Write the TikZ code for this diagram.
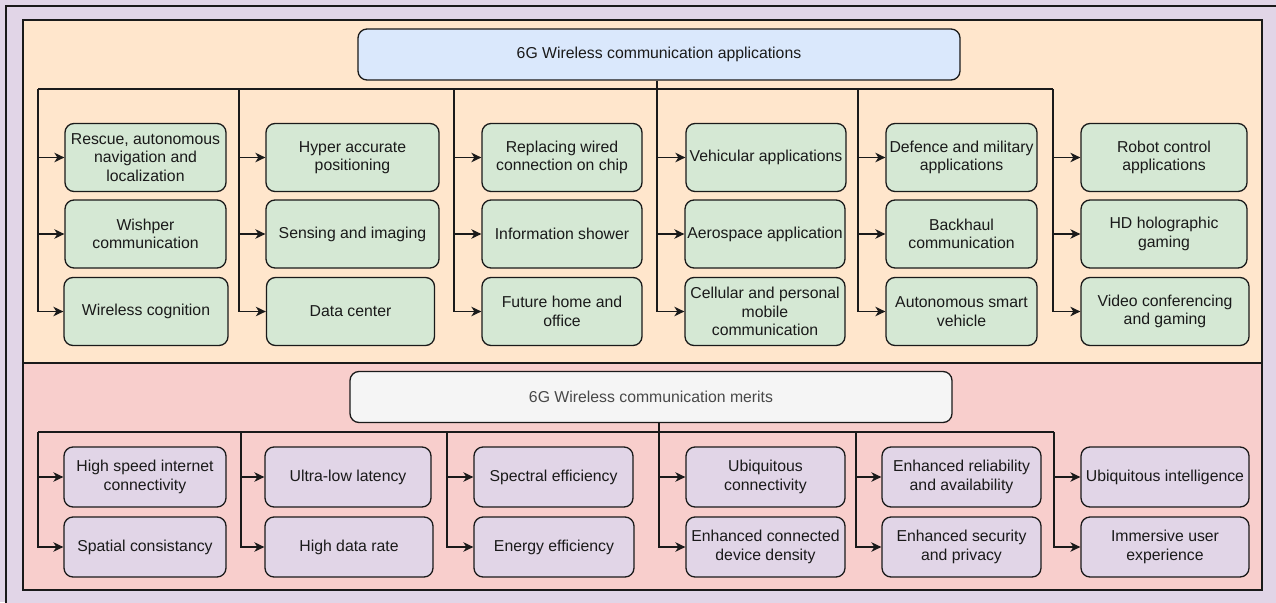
\documentclass[tikz,border=0pt]{standalone}
\usepackage{fontspec}
\setmainfont{Liberation Sans}
\usetikzlibrary{arrows.meta}

\definecolor{outerlilac}{HTML}{E1D5E7}
\definecolor{apppanel}{HTML}{FFE6CC}
\definecolor{meritpanel}{HTML}{F8CECC}
\definecolor{appgreen}{HTML}{D5E8D4}
\definecolor{headblue}{HTML}{DAE8FC}
\definecolor{headgrey}{HTML}{F5F5F5}
\definecolor{meritlilac}{HTML}{E1D5E7}
\definecolor{inkdark}{HTML}{1A1A1A}

\tikzset{
  cell/.style={draw=inkdark, line width=1.3pt, rounded corners=9pt, align=center,
    inner sep=2pt, font=\fontsize{15.8}{18.4}\selectfont, text=inkdark},
  appbox/.style={cell, fill=appgreen, minimum height=68pt},
  meritbox/.style={cell, fill=meritlilac, minimum height=60pt},
  headbox/.style={cell, minimum width=602pt, minimum height=51pt},
  panel/.style={draw=inkdark, line width=1.3pt},
  bus/.style={draw=inkdark, line width=1.4pt},
  feed/.style={bus, -{Stealth[length=10pt,width=9.5pt,inset=3pt]}}
}

\begin{document}
\begin{tikzpicture}[x=1pt, y=-1pt]
    \useasboundingbox (0,0) rectangle (1276,602);
    % Panels
    \fill[outerlilac] (0,0) rectangle (1276,602);
    \draw[panel, fill=outerlilac] (6,6) rectangle (1284,610);
    \draw[panel, fill=apppanel] (23,20) rectangle (1262,363);
    \draw[panel, fill=meritpanel] (23,363) rectangle (1262,590);

    % Applications
    \node[headbox, fill=headblue] (apphead) at (659,54.5) {6G Wireless communication applications};

    \node[appbox, minimum width=161pt] (a11) at (145.5,157.5) {Rescue, autonomous\\navigation and\\localization};
    \node[appbox, minimum width=161pt] (a12) at (145.5,234) {Wishper\\communication};
    \node[appbox, minimum width=164pt] (a13) at (146,311.5) {Wireless cognition};

    \node[appbox, minimum width=173pt] (a21) at (352.5,157.5) {Hyper accurate\\positioning};
    \node[appbox, minimum width=173pt] (a22) at (352.5,234) {Sensing and imaging};
    \node[appbox, minimum width=168pt] (a23) at (350.5,311.5) {Data center};

    \node[appbox, minimum width=160pt] (a31) at (562,157.5) {Replacing wired\\connection on chip};
    \node[appbox, minimum width=160pt] (a32) at (562,234) {Information shower};
    \node[appbox, minimum width=160pt] (a33) at (562,311.5) {Future home and\\office};

    \node[appbox, minimum width=160pt] (a41) at (766,157.5) {Vehicular applications};
    \node[appbox, minimum width=160pt] (a42) at (765,234) {Aerospace application};
    \node[appbox, minimum width=160pt] (a43) at (765,311.5) {Cellular and personal\\mobile\\communication};

    \node[appbox, minimum width=151pt] (a51) at (961.5,157.5) {Defence and military\\applications};
    \node[appbox, minimum width=151pt] (a52) at (961.5,234) {Backhaul\\communication};
    \node[appbox, minimum width=151pt] (a53) at (961.5,311.5) {Autonomous smart\\vehicle};

    \node[appbox, minimum width=166pt] (a61) at (1164,157.5) {Robot control\\applications};
    \node[appbox, minimum width=166pt] (a62) at (1164,234) {HD holographic\\gaming};
    \node[appbox, minimum width=168pt] (a63) at (1165,311.5) {Video conferencing\\and gaming};

    \foreach \c/\x in {1/38,2/239,3/454,4/657,5/858,6/1053}
        \coordinate (tb\c) at (\x,89);
    \draw[bus] (tb1) -- (tb6);
    \draw[bus] (apphead.south -| tb4) -- (tb4);
    \foreach \c in {1,...,6}
        \foreach \r in {1,2,3}
            \draw[feed] (tb\c) |- (a\c\r.west);

    % Merits
    \node[headbox, fill=headgrey, text=inkdark!80] (merithead) at (651,397) {6G Wireless communication merits};

    \node[meritbox, minimum width=162pt] (m11) at (145,477) {High speed internet\\connectivity};
    \node[meritbox, minimum width=162pt] (m12) at (145,547) {Spatial consistancy};

    \node[meritbox, minimum width=166pt] (m21) at (348,477) {Ultra-low latency};
    \node[meritbox, minimum width=168pt] (m22) at (349,547) {High data rate};

    \node[meritbox, minimum width=159pt] (m31) at (553.5,477) {Spectral efficiency};
    \node[meritbox, minimum width=160pt] (m32) at (554,547) {Energy efficiency};

    \node[meritbox, minimum width=159pt] (m41) at (765.5,477) {Ubiquitous\\connectivity};
    \node[meritbox, minimum width=159pt] (m42) at (765.5,547) {Enhanced connected\\device density};

    \node[meritbox, minimum width=159pt] (m51) at (961.5,477) {Enhanced reliability\\and availability};
    \node[meritbox, minimum width=159pt] (m52) at (961.5,547) {Enhanced security\\and privacy};

    \node[meritbox, minimum width=168pt] (m61) at (1165,477) {Ubiquitous intelligence};
    \node[meritbox, minimum width=168pt] (m62) at (1165,547) {Immersive user\\experience};

    \foreach \c/\x in {1/38,2/241,3/447,4/659,5/856,6/1054}
        \coordinate (mb\c) at (\x,432);
    \draw[bus] (mb1) -- (mb6);
    \draw[bus] (merithead.south -| mb4) -- (mb4);
    \foreach \c in {1,...,6}
        \foreach \r in {1,2}
            \draw[feed] (mb\c) |- (m\c\r.west);
\end{tikzpicture}
\end{document}
